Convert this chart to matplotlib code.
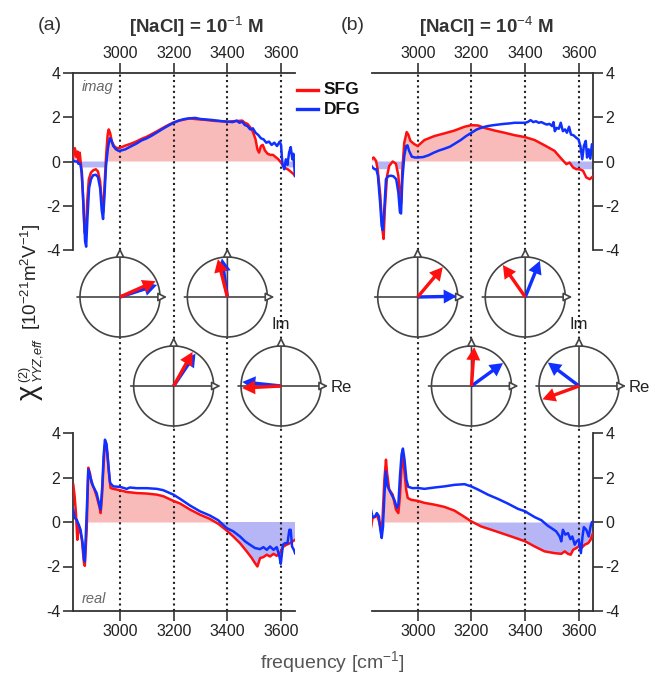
import numpy as np
import matplotlib
matplotlib.use('Agg')
import matplotlib.pyplot as plt
from matplotlib.patches import Circle, FancyArrow, FancyArrowPatch
from matplotlib.lines import Line2D

plt.rcParams['font.family'] = ['Liberation Sans', 'DejaVu Sans']
plt.rcParams['mathtext.fontset'] = 'custom'
plt.rcParams['mathtext.rm'] = 'Liberation Sans'
plt.rcParams['mathtext.it'] = 'Liberation Sans:italic'
plt.rcParams['mathtext.bf'] = 'Liberation Sans:bold'
plt.rcParams['axes.unicode_minus'] = False

# ---------------- data ----------------
tick_freqs = [3000, 3200, 3400, 3600]
y_ticks = [-4, -2, 0, 2, 4]

# (a) [NaCl] = 1e-1 M, imaginary part
ta_sfg_f = [2826,2832,2838,2842,2846,2850,2856,2862,2868,2873, 2878,2884,2892,2900,2910,2918,2926,2932,2937,2942,
            2948,2954,2958,2963,2970,2978,2988,3000,3020,3040, 3060,3080,3100,3120,3140,3160,3180,3200,3220,3240,
            3260,3280,3300,3320,3340,3360,3380,3400,3420,3440, 3455,3465,3475,3485,3495,3505,3512,3518,3525,3532,
            3540,3550,3560,3570,3580,3590,3600,3608,3615,3625, 3635,3645,3652]
ta_sfg = [0.2,0.6,0.2,0.45,-0.1,0.4,-0.3,-1.5,-3.2,-3.35, -1.8,-0.8,-0.5,-0.4,-0.35,-0.45,-0.9,-1.8,-2.3,-1.2,
          0.2,1.2,1.45,1.3,0.9,0.7,0.6,0.62,0.72,0.8, 0.9,1.02,1.12,1.25,1.38,1.52,1.65,1.77,1.85,1.9,
          1.95,1.92,1.9,1.88,1.85,1.83,1.82,1.8,1.82,1.83, 1.85,1.75,1.7,1.55,1.35,1.0,0.55,0.4,0.7,0.75,
          0.5,0.35,0.3,0.3,0.2,0.1,-0.05,-0.2,-0.3,-0.35, -0.45,-0.55,-0.65]
ta_dfg_f = [2826,2832,2840,2846,2852,2858,2864,2870,2874,2879, 2885,2892,2900,2910,2918,2926,2932,2937,2942,2948,
            2955,2962,2968,2975,2985,2995,3005,3020,3040,3060, 3080,3100,3120,3140,3160,3180,3200,3220,3240,3260,
            3280,3300,3320,3340,3360,3380,3400,3420,3435,3445, 3455,3465,3475,3485,3495,3505,3515,3525,3535,3545,
            3555,3565,3575,3585,3595,3600,3605,3612,3618,3624, 3630,3636,3642,3646,3652]
ta_dfg = [0.05,0.0,0.0,-0.1,-0.1,-0.5,-2.0,-3.6,-3.85,-2.5, -1.2,-0.8,-0.62,-0.6,-0.7,-1.2,-2.2,-2.6,-1.6,-0.2,
          0.6,1.05,0.95,0.7,0.55,0.48,0.5,0.55,0.68,0.8, 0.95,1.05,1.18,1.33,1.48,1.62,1.75,1.85,1.92,1.95,
          1.97,1.92,1.9,1.88,1.85,1.82,1.8,1.78,1.85,1.75, 1.8,1.65,1.6,1.45,1.5,1.3,1.2,1.05,1.0,0.85,
          0.9,0.75,0.85,0.7,0.9,0.75,-0.1,-0.35,0.1,-0.15, 0.4,0.65,0.1,0.35,-0.65]

# (b) [NaCl] = 1e-4 M, imaginary part
tb_sfg_f = [2826,2836,2845,2851,2861,2868,2873,2878,2886,2894, 2907,2919,2928,2934,2938,2943,2950,2959,2965,2973,
            2988,3000,3025,3062,3099,3137,3174,3199,3224,3248, 3286,3323,3360,3400,3435,3472,3509,3534,3553,3565,
            3578,3590,3602,3615,3627,3640,3652]
tb_sfg = [0.1,0.18,0.03,-0.35,-1.55,-3.0,-3.5,-2.1,-0.65,-0.2, 0.0,-0.1,-0.64,-1.6,-1.9,-0.35,0.85,1.33,1.22,0.93,
          0.78,0.7,0.97,1.15,1.27,1.4,1.57,1.64,1.63,1.52, 1.4,1.3,1.19,1.1,0.97,0.73,0.48,0.13,-0.12,-0.05,
          -0.27,-0.35,-0.35,-0.42,-0.72,-0.8,-0.67]
tb_dfg_f = [2826,2832,2840,2846,2852,2860,2866,2870,2876,2882, 2890,2900,2910,2920,2928,2934,2938,2943,2950,2957,
            2962,2968,2978,2990,3000,3020,3040,3060,3080,3100, 3120,3140,3160,3180,3200,3220,3240,3260,3280,3300,
            3320,3340,3360,3380,3400,3410,3420,3430,3440,3450, 3460,3470,3480,3490,3500,3505,3510,3517,3525,3532,
            3540,3548,3555,3563,3570,3580,3590,3598,3605,3612, 3618,3625,3630,3636,3642,3648,3652]
tb_dfg = [-0.16,-0.27,-0.35,-0.35,-0.64,-1.84,-2.9,-3.1,-2.1,-0.8, -0.67,-0.64,-0.67,-0.8,-1.4,-2.3,-2.35,-0.8,0.25,0.7,
          0.73,0.48,0.22,0.18,0.18,0.2,0.28,0.4,0.5,0.58, 0.67,0.82,0.97,1.15,1.3,1.45,1.54,1.6,1.64,1.67,
          1.7,1.72,1.75,1.75,1.75,1.79,1.87,1.78,1.82,1.75, 1.78,1.72,1.67,1.7,1.6,1.78,1.37,1.52,1.48,1.75,
          1.37,1.45,1.3,1.57,1.22,1.18,1.07,1.0,0.7,0.1, 0.7,0.93,0.18,0.55,0.13,0.78,0.75]

# (a) real part
ba_sfg_f = [2826,2831,2836,2841,2846,2851,2858,2866,2869,2876, 2882,2888,2894,2903,2913,2923,2928,2933,2938,2943,
            2947,2953,2960,2965,2975,3000,3025,3062,3099,3137, 3161,3199,3224,3261,3298,3335,3366,3397,3422,3447,
            3472,3491,3503,3512,3522,3534,3547,3559,3572,3584, 3596,3609,3621,3634,3652]
ba_sfg = [1.68,1.16,0.4,-0.8,-0.12,-0.35,-0.8,-1.85,-1.97,-0.35, 2.44,2.2,1.76,1.53,1.16,0.7,0.4,1.16,2.36,3.4,
          3.55,3.1,2.06,1.53,1.49,1.43,1.35,1.3,1.28,1.23, 1.16,0.95,0.83,0.56,0.33,0.14,-0.08,-0.38,-0.65,-0.95,
          -1.32,-1.62,-1.85,-2.0,-1.62,-1.58,-1.47,-1.55,-1.43,-1.52, -1.4,-1.1,-1.02,-0.95,-0.8]
ba_dfg_f = [2826,2831,2839,2846,2853,2861,2866,2869,2876,2882, 2890,2900,2913,2923,2928,2934,2939,2944,2950,2957,
            2963,2975,3000,3025,3037,3062,3099,3137,3161,3199, 3224,3261,3298,3335,3366,3397,3422,3447,3466,3484,
            3503,3522,3534,3547,3559,3572,3584,3594,3599,3607, 3615,3624,3631,3636,3641,3649,3652]
ba_dfg = [0.56,0.18,0.1,-0.12,-0.35,-0.95,-1.7,-1.77,0.4,2.36, 2.0,1.6,1.3,0.78,0.56,1.6,2.96,3.7,3.5,2.5,
          1.76,1.6,1.58,1.49,1.55,1.52,1.52,1.49,1.43,1.23, 1.04,0.74,0.48,0.29,0.08,-0.27,-0.42,-0.65,-0.87,-1.02,
          -1.17,-1.22,-1.13,-1.25,-1.1,-1.25,-1.13,-1.55,-1.88,-1.02, -0.95,-0.95,-0.35,-0.35,-1.1,-1.28,-1.4]

# (b) real part
bb_sfg_f = [2826,2832,2841,2848,2856,2863,2869,2876,2882,2886, 2894,2907,2919,2928,2934,2940,2945,2950,2957,2963,
            2975,3000,3025,3062,3099,3137,3174,3199,3236,3274, 3311,3348,3400,3435,3472,3509,3534,3547,3559,3569,
            3578,3590,3599,3609,3621,3634,3643,3652]
bb_sfg = [-0.27,0.18,0.22,0.33,0.03,-0.35,0.1,1.9,2.8,2.2, 1.46,1.23,0.56,0.4,1.16,2.5,3.0,2.36,1.46,1.08,
          1.0,0.95,0.86,0.78,0.68,0.51,0.23,0.03,-0.2,-0.35, -0.5,-0.65,-0.87,-1.1,-1.32,-1.4,-1.43,-1.32,-1.43,-1.47,
          -1.25,-1.17,-1.1,-1.17,-1.02,-0.95,-0.8,-0.5]
bb_dfg_f = [2826,2832,2841,2848,2856,2861,2866,2871,2876,2881, 2888,2900,2913,2923,2928,2934,2940,2945,2951,2958,
            2965,2981,3000,3025,3062,3099,3137,3174,3199,3224, 3261,3298,3335,3373,3400,3410,3435,3460,3484,3503,
            3515,3528,3534,3540,3549,3559,3568,3575,3584,3591, 3599,3607,3613,3618,3627,3636,3643,3648,3652]
bb_dfg = [0.56,0.22,0.25,0.4,0.25,-0.35,-0.72,-0.2,1.16,2.28, 1.6,1.3,1.0,0.63,0.78,2.06,3.04,3.3,2.8,1.9,
          1.58,1.52,1.53,1.49,1.55,1.6,1.67,1.7,1.6,1.46, 1.23,1.04,0.83,0.59,0.48,0.4,0.22,0.08,-0.17,-0.32,
          -0.42,-0.65,-0.87,-0.35,-0.57,-0.5,-0.77,-0.65,-1.02,-0.87, -0.8,-1.4,-0.65,-0.23,-0.35,-0.65,-0.2,0.0,0.0]

# phase diagrams (degrees), at these frequencies; row 0 upper, row 1 lower
phase_freqs = [3000, 3400, 3200, 3600]
phase_rows = [0, 0, 1, 1]
phase_a_sfg = [24, 104, 61, 183]
phase_a_dfg = [18, 98, 56, 174]
phase_b_sfg = [50, 125, 86, 200]
phase_b_dfg = [1, 68, 36, 143]

RED = '#ff1010'
BLUE = '#1030ff'
PINK = '#f9baba'
LBLUE = '#b6b6f6'
DARK = '#333333'

# ---------------- figure ----------------
W, H = 650, 675
fig = plt.figure(figsize=(6.5, 6.75), dpi=100)


def px_axes(l, t, r, b):
    return fig.add_axes([l / W, 1 - b / H, (r - l) / W, (b - t) / H])


ax_ta = px_axes(73, 73, 295, 250)
ax_tb = px_axes(372, 73, 593, 250)
ax_ba = px_axes(73, 433, 295, 611)
ax_bb = px_axes(372, 433, 593, 611)


def style(ax, yside, xside, xlim):
    for s in ax.spines.values():
        s.set_visible(False)
    for s in (yside, xside):
        ax.spines[s].set_visible(True)
        ax.spines[s].set_color(DARK)
        ax.spines[s].set_linewidth(1.3)
    ax.set_xlim(*xlim)
    ax.set_ylim(-4, 4)
    ax.set_yticks(y_ticks)
    ax.set_xticks(tick_freqs)
    if yside == 'left':
        ax.yaxis.tick_left()
    else:
        ax.yaxis.tick_right()
    if xside == 'top':
        ax.xaxis.tick_top()
    else:
        ax.xaxis.tick_bottom()
    ax.tick_params(direction='out', length=7, width=1.2, color=DARK,
                   labelsize=11.5, labelcolor='#222222', pad=2)
    ax.patch.set_alpha(0)
    for f in tick_freqs:
        ax.axvline(f, color='#222222', ls=(0, (1, 1.6)), lw=1.5, zorder=1)


def fill(ax, f, v, start, floor):
    f = np.asarray(f, float)
    v = np.asarray(v, float)
    m = f >= start
    vv = np.maximum(v, floor)[m]
    ff = f[m]
    ax.fill_between(ff, 0, vv, where=vv >= 0, interpolate=True, color=PINK, lw=0, zorder=0.5)
    ax.fill_between(ff, 0, vv, where=vv <= 0, interpolate=True, color=LBLUE, lw=0, zorder=0.5)


panels = [
    (ax_ta, 'left', 'top', (2825, 3652), ta_sfg_f, ta_sfg, ta_dfg_f, ta_dfg, 2826, -0.27),
    (ax_tb, 'right', 'top', (2830, 3652), tb_sfg_f, tb_sfg, tb_dfg_f, tb_dfg, 2826, -0.35),
    (ax_ba, 'left', 'bottom', (2825, 3652), ba_sfg_f, ba_sfg, ba_dfg_f, ba_dfg, 2876, -10),
    (ax_bb, 'right', 'bottom', (2830, 3652), bb_sfg_f, bb_sfg, bb_dfg_f, bb_dfg, 2876, -10),
]
for ax, ys, xs, xl, fr, vr, fb, vb, st, fl in panels:
    style(ax, ys, xs, xl)
    fill(ax, fr, vr, st, fl)
    ax.plot(fr, vr, color=RED, lw=1.8, zorder=3)
    ax.plot(fb, vb, color=BLUE, lw=1.8, zorder=4)

ax_ta.text(0.04, 0.92, 'imag', transform=ax_ta.transAxes, fontsize=10.5, style='italic',
           color='#666666', ha='left', va='center')
ax_ba.text(0.04, 0.07, 'real', transform=ax_ba.transAxes, fontsize=10.5, style='italic',
           color='#666666', ha='left', va='center')

# ---------------- overlay (pixel coordinates) ----------------
ov = fig.add_axes([0, 0, 1, 1])
ov.set_xlim(0, W)
ov.set_ylim(H, 0)
ov.axis('off')
ov.patch.set_alpha(0)

row_y = [297, 386]
R = 40
L = 39


def fx(ax, f):
    return ax.transData.transform((f, 0))[0]


for ax, sfg_ph, dfg_ph in ((ax_ta, phase_a_sfg, phase_a_dfg), (ax_tb, phase_b_sfg, phase_b_dfg)):
    for f in tick_freqs:
        x = fx(ax, f)
        ov.add_line(Line2D([x, x], [250, 433], color='#222222', ls=(0, (1, 1.6)), lw=1.5, zorder=1))
    for f, row, ps, pd in zip(phase_freqs, phase_rows, sfg_ph, dfg_ph):
        cx = fx(ax, f)
        cy = row_y[row]
        ov.add_patch(Circle((cx, cy), R, facecolor='white', edgecolor='#444444', lw=1.2, zorder=2))
        ov.add_patch(FancyArrowPatch((cx - 43, cy), (cx + 47, cy), arrowstyle='-|>', mutation_scale=13,
                                     shrinkA=0, shrinkB=0, fc='white', ec='#444444', lw=1.2, zorder=3))
        ov.add_patch(FancyArrowPatch((cx, cy + 41), (cx, cy - 49), arrowstyle='-|>', mutation_scale=13,
                                     shrinkA=0, shrinkB=0, fc='white', ec='#444444', lw=1.2, zorder=3))
        for ang, col, z in ((pd, BLUE, 4), (ps, RED, 5)):
            a = np.deg2rad(ang)
            ov.add_patch(FancyArrow(cx, cy, L * np.cos(a), -L * np.sin(a), width=3.4, head_width=14,
                                    head_length=13, length_includes_head=True, color=col, lw=0, zorder=z))
    # Im / Re labels on the last circle
    cx = fx(ax, phase_freqs[3])
    cy = row_y[1]
    ov.text(cx, cy - 54, 'Im', ha='center', va='bottom', fontsize=12, color='#222222')
    ov.text(cx + 50, cy + 1, 'Re', ha='left', va='center', fontsize=12, color='#222222')

# legend
ov.add_line(Line2D([297, 318], [90, 90], color=RED, lw=2.4))
ov.add_line(Line2D([297, 318], [109, 109], color=BLUE, lw=2.4))
ov.text(324, 90, 'SFG', ha='left', va='center', fontsize=12.5, fontweight='bold', color='#111111')
ov.text(324, 109, 'DFG', ha='left', va='center', fontsize=12.5, fontweight='bold', color='#111111')

# titles
ov.text(50, 25, '(a)', ha='center', va='center', fontsize=14, color='#333333')
ov.text(353, 25, '(b)', ha='center', va='center', fontsize=14, color='#333333')
ov.text(196, 27, r'[NaCl] = 10$^{-1}$ M', ha='center', va='center', fontsize=13.5,
        fontweight='bold', color='#333333')
ov.text(486, 27, r'[NaCl] = 10$^{-4}$ M', ha='center', va='center', fontsize=13.5,
        fontweight='bold', color='#333333')

# y-axis label, built from pieces along a vertical baseline
YB = 37
ov.text(YB, 400, 'χ', rotation=90, rotation_mode='anchor', ha='left', va='baseline',
        fontsize=21, color='#222222')
ov.text(YB, 383, r'$^{(2)}_{YYZ{,}eff}$', rotation=90, rotation_mode='anchor', ha='left',
        va='baseline', fontsize=13, color='#222222')
ov.text(YB, 330, r'[10$^{-21}$m$^{2}$V$^{-1}$]', rotation=90, rotation_mode='anchor', ha='left',
        va='baseline', fontsize=13.5, color='#222222')

ov.text(332, 662, r'frequency [cm$^{-1}$]', ha='center', va='center', fontsize=14, color='#555555')

fig.savefig('out.png', dpi=100)
